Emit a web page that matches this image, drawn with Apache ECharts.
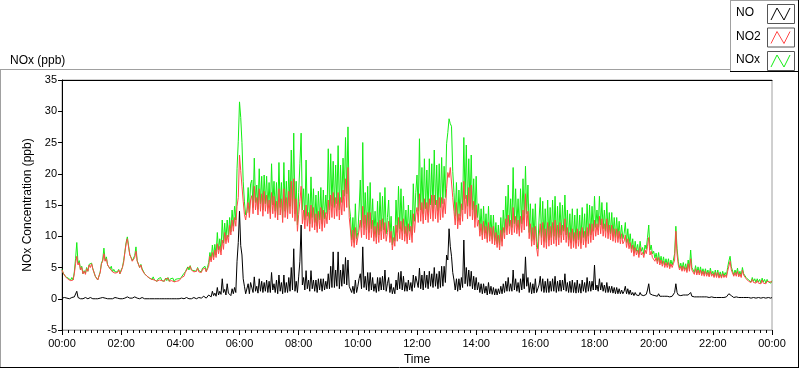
<!DOCTYPE html>
<html><head><meta charset="utf-8">
<script src="https://cdn.jsdelivr.net/npm/echarts@6/dist/echarts.min.js"></script>
<style>html,body{margin:0;padding:0;background:#fff}#c{width:800px;height:369px}</style>
</head><body><div id="c"></div>
<script>
// ---- data (2.5-minute readings, 00:00 .. 24:00, one row per hour) ----
const stepMinutes = 2.5;
const timeLabels = ['00:00','02:00','04:00','06:00','08:00','10:00','12:00','14:00','16:00','18:00','20:00','22:00','00:00'];
const seriesNames = ['NO', 'NO2', 'NOx'];

const NO = [
 0.1,0.0,0.2,0.0,0.1,0.2,0.0,0.1,0.2,0.0,0.3,0.6,1.2,0.2,0.3,0.0,0.2,0.0,0.1,0.2,0.2,0.0,0.1,0.2,
 0.1,0.0,0.2,0.0,0.1,0.0,0.1,0.1,0.1,0.2,0.3,0.1,0.3,0.0,0.1,0.0,0.2,0.0,0.1,0.2,0.0,0.1,0.1,0.0,
 0.2,0.0,0.3,0.1,0.2,0.3,0.4,0.1,0.2,0.1,0.1,0.3,0.5,0.1,0.2,0.0,0.1,0.2,0.2,0.0,0.1,0.0,0.1,0.0,
 0.1,0.0,0.1,0.0,0.1,0.0,0.1,0.0,0.1,0.0,0.1,0.0,0.1,0.0,0.1,0.0,0.1,0.0,0.1,0.0,0.1,0.0,0.1,0.0,
 0.0,0.1,0.1,0.0,0.1,0.2,0.2,0.0,0.1,0.0,0.1,0.2,0.2,0.0,0.1,0.2,0.2,0.1,0.2,0.4,0.3,0.1,0.4,0.6,
 0.6,0.3,1.2,0.5,0.9,0.4,1.8,0.6,1.2,0.7,3.2,1.0,1.5,0.6,2.4,0.9,1.2,0.5,1.6,0.8,1.8,1.0,6.0,9.0,
 14.0,8.5,7.0,3.2,2.0,0.8,1.0,2.4,0.8,2.6,2.5,1.0,3.5,1.2,2.0,0.9,3.2,1.2,2.8,1.0,2.6,1.2,3.0,1.0,
 2.8,1.0,4.2,1.4,2.4,1.0,3.0,0.8,3.8,1.2,2.6,0.8,3.8,1.0,2.6,1.0,3.4,1.2,5.0,1.4,8.0,1.2,2.8,1.0,
 3.5,6.0,11.8,2.2,3.4,1.4,4.5,1.6,3.0,1.2,4.5,1.6,3.0,1.2,3.0,1.0,3.2,1.4,3.2,1.2,3.2,1.4,2.8,1.6,
 4.0,1.6,5.2,1.8,7.5,1.8,4.6,2.0,7.5,1.6,4.6,2.0,5.5,2.4,6.6,2.2,6.2,2.0,2.2,1.0,2.0,0.8,3.0,1.0,
 2.0,3.2,4.0,1.6,8.3,1.8,3.6,1.4,4.2,1.2,4.2,1.4,3.4,1.2,2.4,1.0,3.4,1.2,3.4,1.4,3.6,1.4,4.6,1.2,
 2.4,3.4,1.0,2.4,0.8,1.8,0.8,3.0,1.4,4.2,1.6,4.4,1.4,3.6,1.2,2.6,1.2,3.0,1.4,2.6,1.2,3.8,1.8,3.6,
 3.6,1.8,4.9,1.6,3.8,1.4,4.4,1.8,3.8,1.6,4.4,2.0,4.0,1.8,5.0,2.0,4.0,1.6,4.4,1.8,5.2,2.0,5.2,2.6,
 7.0,6.2,11.2,8.4,6.8,4.2,3.0,1.4,3.2,1.2,3.2,1.4,3.4,1.8,9.4,2.4,5.0,2.0,4.6,2.0,4.4,1.6,3.6,1.4,
 3.4,1.4,2.6,1.0,2.4,0.8,2.4,0.9,2.0,0.6,2.6,0.8,2.0,0.7,1.8,0.6,1.6,0.6,1.6,0.8,2.0,0.8,2.4,1.0,
 2.8,1.2,3.4,1.2,2.4,1.2,4.6,1.4,3.2,1.2,2.6,1.0,3.2,1.4,4.0,1.6,6.7,2.0,3.4,1.0,2.6,0.8,2.4,0.9,
 3.2,1.0,0.8,2.2,3.6,1.2,3.2,1.0,2.8,1.0,3.2,1.0,2.8,1.2,3.2,1.2,3.6,1.0,2.8,1.2,3.0,1.2,3.0,1.4,
 4.0,1.2,2.6,1.0,2.8,1.0,3.0,1.0,2.6,0.9,3.0,1.0,2.4,0.9,3.0,1.2,2.6,1.0,3.4,1.2,2.8,1.2,2.8,1.4,
 5.4,1.4,2.2,1.2,3.2,1.4,2.6,1.2,2.2,1.0,2.6,1.0,2.0,1.0,2.0,0.9,1.8,0.8,1.8,0.8,1.6,0.8,1.4,0.8,
 1.2,2.0,0.8,1.6,0.7,1.4,0.6,1.0,0.5,1.0,0.6,0.9,0.5,1.0,0.6,0.8,0.5,0.8,0.7,1.4,2.4,0.8,1.0,0.6,
 0.8,0.5,0.7,0.4,0.8,0.4,0.6,0.4,0.7,0.4,0.6,0.4,0.6,0.3,0.6,0.4,0.6,1.0,2.4,1.0,0.6,0.3,0.5,0.3,
 0.6,0.3,0.6,0.3,0.6,0.4,1.0,0.4,0.5,0.3,0.5,0.3,0.5,0.3,0.5,0.3,0.4,0.3,0.4,0.3,0.4,0.2,0.5,0.3,
 0.4,0.2,0.4,0.2,0.4,0.2,0.4,0.2,0.4,0.2,0.4,0.3,0.6,0.8,1.0,0.5,0.4,0.2,0.4,0.3,0.5,0.2,0.4,0.2,
 0.4,0.2,0.3,0.2,0.3,0.2,0.3,0.1,0.3,0.2,0.3,0.1,0.3,0.2,0.3,0.1,0.3,0.2,0.3,0.1,0.3,0.2,0.3,0.1,
 0.2
];

const NO2 = [
 4.6,4.1,4.2,3.5,3.6,3.1,3.3,2.9,3.2,3.0,4.0,5.6,6.8,5.4,5.8,4.6,5.0,4.0,4.4,3.9,4.8,4.4,5.4,5.0,
 5.6,4.8,4.6,3.6,3.4,3.0,3.2,4.2,5.6,6.0,7.2,6.0,6.4,5.4,5.6,4.8,5.0,4.3,4.6,4.1,4.4,4.2,4.6,4.0,
 4.4,5.0,5.8,7.4,8.8,9.6,9.4,7.0,6.6,6.0,5.8,6.6,7.6,6.0,5.8,5.0,5.4,4.6,4.8,4.0,4.2,3.6,3.8,3.3,
 3.5,3.1,3.4,3.0,3.2,2.8,3.1,3.0,3.3,2.9,3.1,2.8,3.2,2.9,3.3,2.8,3.1,2.9,3.2,2.7,3.0,2.8,3.1,2.9,
 3.2,3.4,3.7,3.6,4.2,4.4,4.9,4.6,5.2,4.6,4.8,4.3,4.6,4.4,4.9,4.3,4.6,4.2,4.7,4.4,4.9,4.3,4.6,5.2,
 6.8,5.9,7.4,6.2,7.8,6.6,8.8,7.2,8.4,7.0,9.4,7.9,10.6,8.8,10.2,9.0,11.8,10.2,12.6,10.8,13.0,11.6,14.8,16.2,
 23.0,20.5,18.0,15.6,13.5,12.6,12.8,15.4,13.0,15.8,16.5,13.6,18.0,14.2,16.2,13.4,17.6,14.0,16.8,13.2,17.2,14.0,16.6,13.6,
 15.8,12.8,17.0,13.6,16.4,13.0,15.6,12.6,17.6,13.4,16.0,12.2,17.6,13.0,16.2,12.8,17.2,13.6,18.8,13.0,19.2,12.4,16.0,10.8,
 13.5,15.6,18.0,12.0,14.2,11.2,15.0,11.6,13.8,10.8,15.0,11.4,14.6,11.0,13.6,10.6,14.0,11.2,14.6,10.8,14.2,11.4,13.8,12.0,
 15.8,12.6,16.6,13.0,17.0,12.8,16.2,13.2,17.0,12.6,16.2,13.4,17.4,14.0,19.2,14.6,21.0,13.0,11.0,8.4,11.0,8.2,11.4,8.6,
 8.6,11.0,12.6,9.8,14.8,10.2,13.4,9.6,13.8,9.4,13.8,9.8,12.6,9.2,11.6,8.8,12.2,9.0,12.6,9.4,12.8,9.6,12.2,9.2,
 10.6,12.4,9.0,10.8,7.8,9.8,8.4,11.8,9.2,13.0,9.6,12.4,9.4,12.8,9.2,11.6,8.8,12.0,9.4,11.6,9.0,13.6,10.6,13.4,
 14.6,12.2,16.8,12.4,15.4,12.0,16.0,12.6,15.4,12.2,16.0,12.8,16.6,12.4,16.6,12.8,15.8,12.2,16.2,12.6,16.2,13.0,16.0,13.6,
 17.6,20.2,19.4,21.0,20.8,16.2,14.0,11.8,15.4,11.2,13.6,11.8,15.2,12.4,18.8,13.6,16.6,12.8,17.8,13.2,18.2,12.6,15.6,11.4,
 15.0,11.6,12.6,10.0,12.0,9.4,12.4,9.6,11.6,9.0,12.2,9.2,11.4,8.8,11.6,8.6,10.6,8.2,10.2,7.8,11.0,8.4,11.4,9.6,
 12.8,10.2,13.4,10.4,12.6,10.2,14.6,10.6,13.2,10.4,12.6,10.0,13.2,10.6,14.2,11.0,16.8,11.6,14.0,9.6,12.0,8.4,11.4,8.6,
 11.6,8.2,6.8,10.0,12.0,8.6,12.2,8.2,11.2,8.0,12.2,8.4,11.6,8.6,12.2,8.8,12.6,8.4,11.8,8.6,12.2,9.0,11.8,9.4,
 12.8,9.0,11.4,8.4,10.6,8.0,11.2,8.2,10.6,8.0,11.2,8.4,10.8,8.0,11.4,8.6,10.8,8.2,11.4,8.8,12.0,9.0,12.0,9.4,
 12.6,10.0,12.0,10.2,13.2,10.4,12.8,10.0,12.0,9.8,12.8,9.6,11.8,9.4,11.8,9.2,11.2,9.0,11.2,9.0,10.8,8.8,10.4,8.8,
 9.2,10.2,8.2,9.6,8.0,9.0,7.4,8.6,6.8,8.2,7.0,7.8,6.6,8.2,7.0,7.4,6.6,7.8,7.2,8.4,9.8,7.0,7.6,6.6,
 6.8,6.0,6.6,5.6,6.6,5.4,6.2,5.2,6.0,5.0,5.8,5.0,5.8,4.8,5.6,5.0,5.6,6.2,10.8,7.0,5.4,4.6,5.2,4.4,
 5.2,4.4,5.0,4.2,5.6,4.4,6.4,4.6,4.8,3.9,4.8,3.8,4.6,3.8,4.6,3.7,4.4,3.6,4.4,3.6,4.2,3.5,4.4,3.6,
 4.0,3.4,4.2,3.4,4.2,3.3,3.9,3.3,4.0,3.4,3.8,3.4,4.4,5.2,6.0,4.6,4.6,3.6,4.2,3.6,4.4,3.5,4.0,3.4,
 4.6,3.8,4.0,3.2,3.4,2.8,3.0,2.6,3.1,2.6,2.9,2.5,2.9,2.5,2.8,2.4,3.0,2.5,2.8,2.4,2.8,2.5,2.7,2.4,
 2.7
];

const NOx = [
 4.7,4.1,4.4,3.5,3.7,3.3,3.3,3.0,3.4,3.0,4.3,6.4,9.0,5.6,6.1,4.6,5.2,4.0,4.5,4.1,5.0,4.4,5.5,5.2,
 5.7,4.8,4.8,3.6,3.5,3.0,3.3,4.3,5.7,6.2,8.1,6.1,6.7,5.4,5.7,4.8,5.2,4.3,4.7,4.3,4.4,4.3,4.7,4.0,
 4.6,5.0,6.1,7.5,9.0,9.9,9.8,7.1,6.8,6.1,5.9,6.9,8.3,6.1,6.0,5.0,5.5,4.8,5.0,4.0,4.3,3.6,3.9,3.3,
 3.6,3.1,3.5,3.0,3.3,2.8,3.2,3.0,3.4,2.9,3.2,2.8,3.3,2.9,3.4,2.8,3.2,2.9,3.3,2.7,3.1,2.8,3.2,2.9,
 3.2,3.5,3.8,3.6,4.3,4.6,5.1,4.6,5.3,4.6,4.9,4.5,4.8,4.4,5.0,4.5,4.8,4.3,4.9,4.8,5.2,4.4,5.0,5.8,
 7.4,6.2,8.6,6.7,8.7,7.0,10.6,7.8,9.6,7.7,12.6,8.9,12.1,9.4,12.6,9.9,13.0,10.7,14.2,11.6,14.8,12.6,20.8,25.2,
 31.5,29.0,25.0,18.8,15.5,13.4,13.8,17.8,13.8,18.4,19.0,14.6,22.5,15.4,18.2,14.3,20.8,15.2,19.6,14.2,19.8,15.2,19.6,14.6,
 18.6,13.8,21.6,15.0,18.8,14.0,18.6,13.4,21.8,14.6,18.6,13.0,21.8,14.0,18.8,13.8,20.6,14.8,23.8,14.4,26.5,13.6,18.8,11.8,
 17.0,21.6,26.5,14.2,17.6,12.6,22.2,13.2,16.8,12.0,19.5,13.0,17.6,12.2,16.6,11.6,17.2,12.6,17.8,12.0,17.4,12.8,16.6,13.6,
 24.0,14.2,23.2,14.8,22.0,14.6,21.4,15.2,24.5,14.2,21.4,15.4,22.5,16.4,25.8,16.8,27.5,15.0,13.2,9.4,13.0,9.0,15.2,9.6,
 10.6,14.2,19.0,11.4,25.0,12.0,17.0,11.0,18.0,10.6,18.6,11.2,16.0,10.4,14.0,9.8,15.6,10.2,17.0,10.8,16.4,11.0,17.8,10.4,
 13.0,15.8,10.0,13.2,8.6,11.6,9.2,15.8,10.6,18.0,11.2,17.6,10.8,16.4,10.4,14.2,10.0,15.0,10.8,14.2,10.2,18.4,12.4,17.0,
 19.8,14.0,25.6,14.2,21.0,13.6,22.4,14.4,20.6,13.8,22.4,15.0,21.6,14.4,23.8,15.0,21.4,14.0,21.6,14.6,22.6,15.2,21.2,16.2,
 24.8,26.6,28.8,28.0,27.6,20.4,17.0,13.2,18.6,12.4,17.4,13.2,18.6,14.2,25.8,16.0,24.6,14.8,22.4,15.2,23.0,14.2,19.2,12.8,
 19.6,13.0,15.2,11.0,14.4,10.2,14.8,10.5,13.6,9.6,14.8,10.0,13.4,9.5,13.4,9.2,12.2,8.8,11.8,8.6,13.0,9.2,14.2,10.6,
 16.4,11.4,18.2,11.6,16.0,11.4,21.0,12.0,17.6,11.6,16.0,11.0,17.6,12.0,19.2,12.6,21.2,13.6,18.2,10.6,15.2,9.2,14.4,9.5,
 15.2,9.2,8.0,12.6,16.2,9.8,15.6,9.2,14.4,9.0,15.8,9.4,14.6,9.8,15.8,10.0,16.4,9.4,14.8,9.8,15.4,10.2,15.0,10.8,
 16.6,10.2,14.2,9.4,13.6,9.0,14.4,9.2,13.4,8.9,14.4,9.4,13.4,8.9,14.6,9.8,13.6,9.2,15.2,10.0,15.0,10.2,14.8,10.8,
 16.4,11.4,14.2,11.4,16.4,11.8,15.4,11.2,14.2,10.8,15.4,10.6,13.8,10.4,13.8,10.1,13.0,9.8,13.0,9.8,12.4,9.6,11.8,9.6,
 10.4,12.2,9.0,11.2,8.7,10.4,8.0,9.6,7.3,9.2,7.6,8.7,7.1,9.2,7.6,8.2,7.1,8.6,7.9,9.8,11.8,7.8,8.6,7.2,
 7.6,6.5,7.3,6.0,7.4,5.8,6.8,5.6,6.7,5.4,6.4,5.4,6.4,5.1,6.2,5.4,6.2,7.2,11.6,8.0,6.0,4.9,5.7,4.7,
 5.8,4.7,5.6,4.5,6.2,4.8,7.8,5.0,5.3,4.2,5.3,4.1,5.1,4.1,5.1,4.0,4.8,3.9,4.8,3.9,4.6,3.7,4.9,3.9,
 4.4,3.6,4.6,3.6,4.6,3.5,4.3,3.5,4.4,3.6,4.2,3.7,5.0,6.0,6.8,5.1,5.0,3.8,4.6,3.9,4.9,3.7,4.4,3.6,
 5.0,4.0,4.3,3.4,3.7,3.0,3.3,2.7,3.4,2.8,3.2,2.6,3.2,2.7,3.1,2.5,3.3,2.7,3.1,2.5,3.1,2.7,3.0,2.5,
 2.9
];

// ---- chart ----
const FONT = "'Liberation Sans', Arial, sans-serif";
const toPairs = arr => arr.map((v, i) => [i * stepMinutes, v]);
const colors = { NO: '#000000', NO2: '#ff4848', NOx: '#14ee14' };
const valuesByName = { NO: NO, NO2: NO2, NOx: NOx };

const chart = echarts.init(document.getElementById('c'), null, { renderer: 'canvas' });

// legend swatches (LabVIEW-style boxed zig-zags)
const legendGraphics = [];
seriesNames.forEach((name, i) => {
  const top = 4 + i * 23.5;
  legendGraphics.push({
    type: 'text', left: 736, top: top + 3,
    style: { text: name, fill: '#000', font: '12px ' + FONT }
  });
  legendGraphics.push({
    type: 'rect', shape: { x: 767.5, y: top + 0.5, width: 27, height: 19 },
    style: { fill: '#fff', stroke: '#555', lineWidth: 1 }
  });
  legendGraphics.push({
    type: 'polyline',
    shape: { points: [[771, top + 16], [777, top + 4], [784, top + 16], [790, top + 4]] },
    style: { fill: null, stroke: colors[name], lineWidth: 1 }
  });
});

const option = {
  animation: false,
  backgroundColor: '#ffffff',
  textStyle: { fontFamily: FONT },
  title: {
    text: 'NOx (ppb)', left: 5, top: 50,
    textStyle: { fontSize: 12, fontWeight: 'normal', color: '#000', fontFamily: FONT }
  },
  grid: {
    left: 62, right: 28, top: 80, bottom: 39,
    outerBoundsMode: 'none', containLabel: false,
    show: true, borderColor: '#a0a0a0', borderWidth: 1, backgroundColor: '#fff'
  },
  xAxis: [{
    type: 'value', min: 0, max: 1440, interval: 120,
    axisLine: { show: true, onZero: false, lineStyle: { color: '#a0a0a0', width: 1 } },
    axisTick: { show: true, length: 5, lineStyle: { color: '#000' } },
    minorTick: { show: true, splitNumber: 10, length: 3, lineStyle: { color: '#000' } },
    axisLabel: {
      color: '#000', fontSize: 11, margin: 8, fontFamily: FONT,
      showMinLabel: true, showMaxLabel: true,
      formatter: v => timeLabels[Math.round(v / 120)]
    },
    splitLine: { show: false },
    name: 'Time', nameLocation: 'middle', nameGap: 24,
    nameTextStyle: { color: '#000', fontSize: 12, fontFamily: FONT }
  }, {
    type: 'value', position: 'top', min: 0, max: 1440,
    axisLine: { show: true, onZero: false, lineStyle: { color: '#000', width: 1 } },
    axisTick: { show: false }, axisLabel: { show: false }, splitLine: { show: false }
  }],
  yAxis: {
    type: 'value', min: -5, max: 35, interval: 5,
    axisLine: { show: true, onZero: false, lineStyle: { color: '#000', width: 1 } },
    axisTick: { show: true, length: 4, lineStyle: { color: '#000' } },
    axisLabel: { color: '#000', fontSize: 11, margin: 5, fontFamily: FONT },
    splitLine: { show: false },
    name: 'NOx Concentration (ppb)', nameLocation: 'middle', nameGap: 24,
    nameTextStyle: { color: '#000', fontSize: 12, fontFamily: FONT }
  },
  series: ['NOx', 'NO2', 'NO'].map(name => ({
    name: name, type: 'line', xAxisIndex: 0,
    data: toPairs(valuesByName[name]),
    showSymbol: false, symbol: 'none', sampling: null,
    lineStyle: { color: colors[name], width: 1 },
    itemStyle: { color: colors[name] },
    emphasis: { disabled: true }
  })),
  graphic: [
    // outer panel frame
    { type: 'line', shape: { x1: 0, y1: 69.5, x2: 730, y2: 69.5 }, style: { stroke: '#a0a0a0', lineWidth: 1 } },
    { type: 'line', shape: { x1: 0.5, y1: 69, x2: 0.5, y2: 368 }, style: { stroke: '#a0a0a0', lineWidth: 1 } },
    { type: 'line', shape: { x1: 0, y1: 367.5, x2: 799, y2: 367.5 }, style: { stroke: '#000', lineWidth: 1 } },
    { type: 'line', shape: { x1: 798.5, y1: 72, x2: 798.5, y2: 368 }, style: { stroke: '#000', lineWidth: 1 } },
    // legend frame
    { type: 'line', shape: { x1: 730.5, y1: 0, x2: 730.5, y2: 72 }, style: { stroke: '#a0a0a0', lineWidth: 1 } },
    { type: 'line', shape: { x1: 730, y1: 0.5, x2: 799, y2: 0.5 }, style: { stroke: '#a0a0a0', lineWidth: 1 } },
    { type: 'line', shape: { x1: 798.5, y1: 0, x2: 798.5, y2: 72 }, style: { stroke: '#000', lineWidth: 1 } },
    { type: 'line', shape: { x1: 730, y1: 71.5, x2: 799, y2: 71.5 }, style: { stroke: '#000', lineWidth: 1 } }
  ].concat(legendGraphics)
};
chart.setOption(option);
</script>
</body></html>
